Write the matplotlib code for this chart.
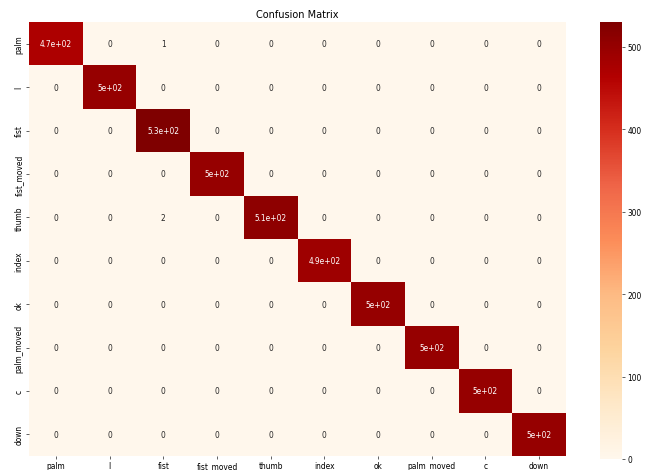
import numpy as np
import matplotlib
matplotlib.use("Agg")
import matplotlib.pyplot as plt
import seaborn as sns

# ジェスチャーのクラス名
labels = ['palm', 'l', 'fist', 'fist_moved', 'thumb', 'index', 'ok', 'palm_moved', 'c', 'down']

# 混同行列の各行（正解ラベルごと）
row_palm       = [470, 0, 1, 0, 0, 0, 0, 0, 0, 0]
row_l          = [0, 500, 0, 0, 0, 0, 0, 0, 0, 0]
row_fist       = [0, 0, 530, 0, 0, 0, 0, 0, 0, 0]
row_fist_moved = [0, 0, 0, 500, 0, 0, 0, 0, 0, 0]
row_thumb      = [0, 0, 2, 0, 510, 0, 0, 0, 0, 0]
row_index      = [0, 0, 0, 0, 0, 490, 0, 0, 0, 0]
row_ok         = [0, 0, 0, 0, 0, 0, 500, 0, 0, 0]
row_palm_moved = [0, 0, 0, 0, 0, 0, 0, 500, 0, 0]
row_c          = [0, 0, 0, 0, 0, 0, 0, 0, 500, 0]
row_down       = [0, 0, 0, 0, 0, 0, 0, 0, 0, 500]

cm = np.array([row_palm, row_l, row_fist, row_fist_moved, row_thumb,
               row_index, row_ok, row_palm_moved, row_c, row_down])

W, H = 657, 471
fig = plt.figure(figsize=(W / 54, H / 54), dpi=54)
ax = fig.add_axes([29 / W, 1 - 457 / H, 537 / W, 434 / H])
cax = fig.add_axes([600 / W, 1 - 460 / H, 22 / W, 437 / H])

sns.heatmap(cm, annot=True, cmap='OrRd', vmin=0, ax=ax, cbar_ax=cax,
            xticklabels=labels, yticklabels=labels)
ax.set_title('Confusion Matrix', fontsize=13)
plt.setp(ax.get_yticklabels(), rotation=90, va='center')
plt.setp(ax.get_xticklabels(), rotation=0)

fig.savefig('out.png', dpi=54)
